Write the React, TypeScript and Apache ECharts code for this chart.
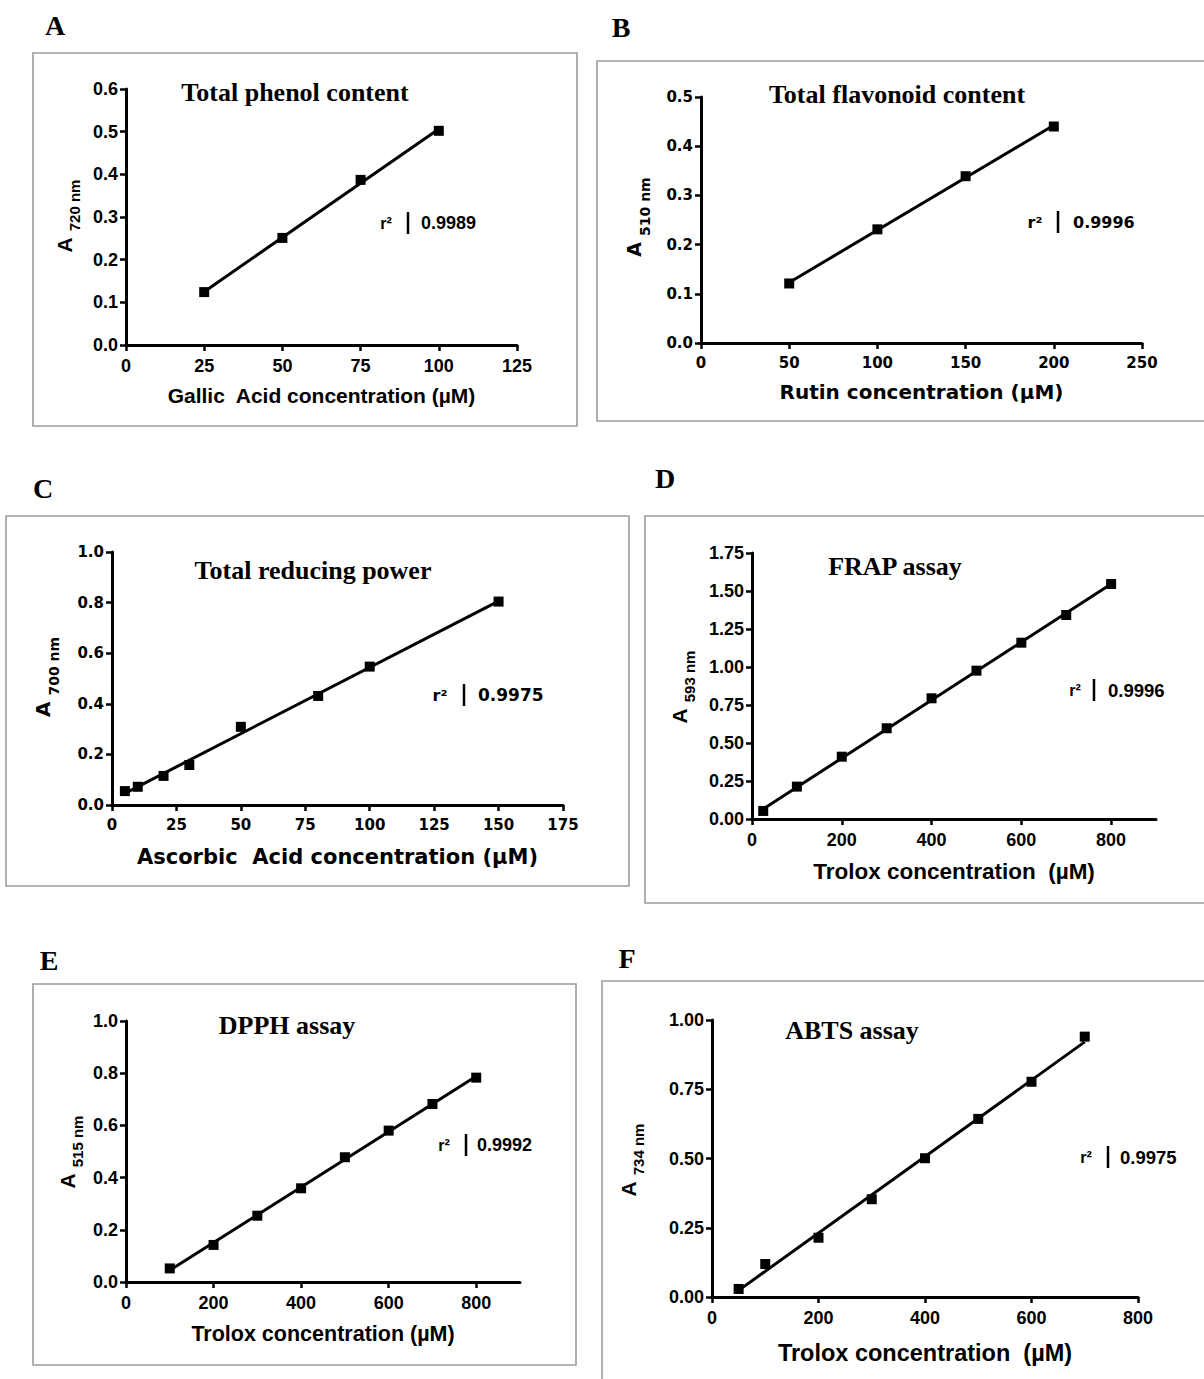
import React, { useEffect, useRef } from "react";
import * as echarts from "echarts";

// ---------------- data ----------------
// A – Total phenol content
const phenolX = [25, 50, 75, 100];
const phenolY = [0.124, 0.251, 0.387, 0.502];
const phenolFit = [[25, 0.125], [100, 0.506]];
const phenolXTicks = [0, 25, 50, 75, 100, 125];
const phenolYTicks = [0, 0.1, 0.2, 0.3, 0.4, 0.5, 0.6];

// B – Total flavonoid content
const flavX = [50, 100, 150, 200];
const flavY = [0.121, 0.231, 0.339, 0.44];
const flavFit = [[50, 0.123], [200, 0.4425]];
const flavXTicks = [0, 50, 100, 150, 200, 250];
const flavYTicks = [0, 0.1, 0.2, 0.3, 0.4, 0.5];

// C – Total reducing power
const reduceX = [5, 10, 20, 30, 50, 80, 100, 150];
const reduceY = [0.055, 0.072, 0.115, 0.158, 0.309, 0.431, 0.547, 0.804];
const reduceFit = [[5, 0.046], [150, 0.806]];
const reduceXTicks = [0, 25, 50, 75, 100, 125, 150, 175];
const reduceYTicks = [0, 0.2, 0.4, 0.6, 0.8, 1.0];

// D – FRAP assay
const frapX = [25, 100, 200, 300, 400, 500, 600, 700, 800];
const frapY = [0.053, 0.213, 0.41, 0.597, 0.794, 0.976, 1.16, 1.342, 1.546];
const frapFit = [[25, 0.066], [800, 1.546]];
const frapXTicks = [0, 200, 400, 600, 800];
const frapYTicks = [0, 0.25, 0.5, 0.75, 1.0, 1.25, 1.5, 1.75];

// E – DPPH assay
const dpphX = [100, 200, 300, 400, 500, 600, 700, 800];
const dpphY = [0.052, 0.142, 0.254, 0.359, 0.478, 0.58, 0.682, 0.783];
const dpphFit = [[100, 0.045], [800, 0.788]];
const dpphXTicks = [0, 200, 400, 600, 800];
const dpphYTicks = [0, 0.2, 0.4, 0.6, 0.8, 1.0];

// F – ABTS assay
const abtsX = [50, 100, 200, 300, 400, 500, 600, 700];
const abtsY = [0.029, 0.119, 0.214, 0.353, 0.501, 0.643, 0.777, 0.94];
const abtsFit = [[50, 0.024], [700, 0.921]];
const abtsXTicks = [0, 200, 400, 600, 800];
const abtsYTicks = [0, 0.25, 0.5, 0.75, 1.0];

const xAxisMax = [125, 250, 175, 900, 900, 800];
const yAxisMax = [0.6, 0.5, 1.0, 1.75, 1.0, 1.0];
const yDecimals = [1, 1, 1, 2, 1, 2];

const panelLetters = ["A", "B", "C", "D", "E", "F"];
const panelTitles = [
  "Total phenol content",
  "Total flavonoid content",
  "Total reducing power",
  "FRAP assay",
  "DPPH assay",
  "ABTS assay",
];
const xAxisTitles = [
  "Gallic  Acid concentration (µM)",
  "Rutin concentration (µM)",
  "Ascorbic  Acid concentration (µM)",
  "Trolox concentration  (µM)",
  "Trolox concentration (µM)",
  "Trolox concentration  (µM)",
];
const yWavelengths = ["720 nm", "510 nm", "700 nm", "593 nm", "515 nm", "734 nm"];
const r2Values = ["0.9989", "0.9996", "0.9975", "0.9996", "0.9992", "0.9975"];

const panelData = [
  { xs: phenolX, ys: phenolY, fit: phenolFit, xTicks: phenolXTicks, yTicks: phenolYTicks },
  { xs: flavX, ys: flavY, fit: flavFit, xTicks: flavXTicks, yTicks: flavYTicks },
  { xs: reduceX, ys: reduceY, fit: reduceFit, xTicks: reduceXTicks, yTicks: reduceYTicks },
  { xs: frapX, ys: frapY, fit: frapFit, xTicks: frapXTicks, yTicks: frapYTicks },
  { xs: dpphX, ys: dpphY, fit: dpphFit, xTicks: dpphXTicks, yTicks: dpphYTicks },
  { xs: abtsX, ys: abtsY, fit: abtsFit, xTicks: abtsXTicks, yTicks: abtsYTicks },
];

// ---------------- layout / styling ----------------
const SANS = "Liberation Sans, Arial, sans-serif";
const WIDE = "DejaVu Sans, sans-serif";
const SERIF = "Liberation Serif, Times New Roman, serif";

const layout = [
  { box: [33, 53, 544, 373], letter: [55, 25], grid: [126, 89, 391, 256], title: [295, 92], yName: [64, 216], r2: [386, 408, 421, 223], xGap: 40, font: SANS, tick: 18, xName: 21, val: 18, yA: 21, yS: 15 },
  { box: [597, 61, 613, 360], letter: [621, 27], grid: [701, 97, 441, 246], title: [897, 94], yName: [634, 217], r2: [1035, 1058, 1073, 222], xGap: 39, font: WIDE, tick: 15, xName: 20, val: 16, yA: 19, yS: 14 },
  { box: [6, 516, 623, 370], letter: [43, 488], grid: [112, 552, 451, 253], title: [313, 570], yName: [43, 677], r2: [440, 464, 478, 695], xGap: 41, font: WIDE, tick: 15, xName: 21, val: 17, yA: 20, yS: 14 },
  { box: [645, 516, 565, 387], letter: [665, 478], grid: [752, 553, 404, 266], title: [895, 566], yName: [679, 687], r2: [1075, 1094, 1108, 690], xGap: 41, font: SANS, tick: 18, xName: 22.5, val: 18.5, yA: 21, yS: 15 },
  { box: [33, 984, 543, 381], letter: [49, 960], grid: [126, 1021, 394, 261], title: [287, 1025], yName: [67, 1152], r2: [444, 466, 477, 1145], xGap: 41, font: SANS, tick: 18, xName: 21.5, val: 18, yA: 21, yS: 15 },
  { box: [602, 981, 608, 409], letter: [627, 958], grid: [712, 1020, 426, 277], title: [852, 1030], yName: [628, 1160], r2: [1086, 1108, 1120, 1157], xGap: 44, font: SANS, tick: 18, xName: 23.5, val: 18.5, yA: 21, yS: 15 },
];

function buildOption() {
  const grid: any[] = [];
  const xAxis: any[] = [];
  const yAxis: any[] = [];
  const series: any[] = [];
  const graphic: any[] = [];

  panelData.forEach((p, i) => {
    const L = layout[i];
    grid.push({
      left: L.grid[0],
      top: L.grid[1],
      width: L.grid[2],
      height: L.grid[3],
      containLabel: false,
      outerBoundsMode: "none",
    });
    const tickCommon = {
      show: true,
      inside: false,
      length: 6,
      lineStyle: { color: "#000", width: 2.5 },
    };
    xAxis.push({
      type: "value",
      gridIndex: i,
      min: 0,
      max: xAxisMax[i],
      axisLine: { show: true, onZero: false, lineStyle: { color: "#000", width: 3 } },
      axisTick: { ...tickCommon, customValues: p.xTicks },
      axisLabel: {
        customValues: p.xTicks,
        color: "#000",
        fontFamily: L.font,
        fontWeight: "bold",
        fontSize: L.tick,
        margin: 12,
      },
      splitLine: { show: false },
      name: xAxisTitles[i],
      nameLocation: "middle",
      nameGap: L.xGap,
      nameTextStyle: {
        color: "#000",
        fontFamily: L.font,
        fontWeight: "bold",
        fontSize: L.xName,
      },
    });
    yAxis.push({
      type: "value",
      gridIndex: i,
      min: 0,
      max: yAxisMax[i],
      axisLine: { show: true, onZero: false, lineStyle: { color: "#000", width: 3 } },
      axisTick: { ...tickCommon, customValues: p.yTicks },
      axisLabel: {
        customValues: p.yTicks,
        color: "#000",
        fontFamily: L.font,
        fontWeight: "bold",
        fontSize: L.tick,
        margin: 8,
        formatter: (v: number) => v.toFixed(yDecimals[i]),
      },
      splitLine: { show: false },
    });
    series.push({
      type: "line",
      xAxisIndex: i,
      yAxisIndex: i,
      data: p.fit,
      symbol: "none",
      showSymbol: false,
      lineStyle: { color: "#000", width: 3 },
      z: 2,
      silent: true,
    });
    series.push({
      type: "scatter",
      xAxisIndex: i,
      yAxisIndex: i,
      data: p.xs.map((x, k) => [x, p.ys[k]]),
      symbol: "rect",
      symbolSize: 10,
      itemStyle: { color: "#000", opacity: 1 },
      z: 3,
      silent: true,
    });

    // frame
    graphic.push({
      type: "rect",
      silent: true,
      shape: { x: L.box[0], y: L.box[1], width: L.box[2], height: L.box[3] },
      style: { fill: "none", stroke: "#9c9c9c", lineWidth: 1.6 },
    });
    // panel letter
    graphic.push({
      type: "text",
      silent: true,
      x: L.letter[0],
      y: L.letter[1],
      style: {
        text: panelLetters[i],
        fontFamily: SERIF,
        fontWeight: "bold",
        fontSize: 28,
        fill: "#000",
        align: "center",
        verticalAlign: "middle",
        textAlign: "center",
        textVerticalAlign: "middle",
      },
    });
    // panel title
    graphic.push({
      type: "text",
      silent: true,
      x: L.title[0],
      y: L.title[1],
      style: {
        text: panelTitles[i],
        fontFamily: SERIF,
        fontWeight: "bold",
        fontSize: 26,
        fill: "#000",
        align: "center",
        verticalAlign: "middle",
        textAlign: "center",
        textVerticalAlign: "middle",
      },
    });
    // y axis title with subscript
    graphic.push({
      type: "text",
      silent: true,
      x: L.yName[0],
      y: L.yName[1],
      rotation: Math.PI / 2,
      style: {
        text: "{a|A}{s|" + yWavelengths[i] + "}",
        fill: "#000",
        align: "center",
        verticalAlign: "middle",
        textAlign: "center",
        textVerticalAlign: "middle",
        rich: {
          a: { fontFamily: L.font, fontWeight: "bold", fontSize: L.yA, fill: "#000", color: "#000" },
          s: {
            fontFamily: L.font,
            fontWeight: "bold",
            fontSize: L.yS,
            fill: "#000",
            color: "#000",
            padding: [21, 0, 0, 6],
          },
        },
      },
    });
    // r² annotation
    graphic.push({
      type: "text",
      silent: true,
      x: L.r2[0],
      y: L.r2[3],
      style: {
        text: "r²",
        fontFamily: L.font,
        fontWeight: "bold",
        fontSize: 16,
        fill: "#000",
        align: "center",
        verticalAlign: "middle",
        textAlign: "center",
        textVerticalAlign: "middle",
      },
    });
    graphic.push({
      type: "line",
      silent: true,
      shape: { x1: L.r2[1], y1: L.r2[3] - 11, x2: L.r2[1], y2: L.r2[3] + 11 },
      style: { stroke: "#000", lineWidth: 2.5 },
    });
    graphic.push({
      type: "text",
      silent: true,
      x: L.r2[2],
      y: L.r2[3],
      style: {
        text: r2Values[i],
        fontFamily: L.font,
        fontWeight: "bold",
        fontSize: L.val,
        fill: "#000",
        align: "left",
        verticalAlign: "middle",
        textAlign: "left",
        textVerticalAlign: "middle",
      },
    });
  });

  return {
    animation: false,
    backgroundColor: "#fff",
    textStyle: { fontFamily: SANS },
    grid,
    xAxis,
    yAxis,
    series,
    graphic: { elements: graphic },
  };
}

export default function App() {
  const ref = useRef<HTMLDivElement | null>(null);
  useEffect(() => {
    if (!ref.current) return;
    const chart = echarts.init(ref.current, undefined, { renderer: "svg" });
    chart.setOption(buildOption() as any);
    return () => {
      chart.dispose();
    };
  }, []);
  return (
    <div
      ref={ref}
      style={{ position: "absolute", left: 0, top: 0, width: 1204, height: 1379, background: "#fff" }}
    />
  );
}
